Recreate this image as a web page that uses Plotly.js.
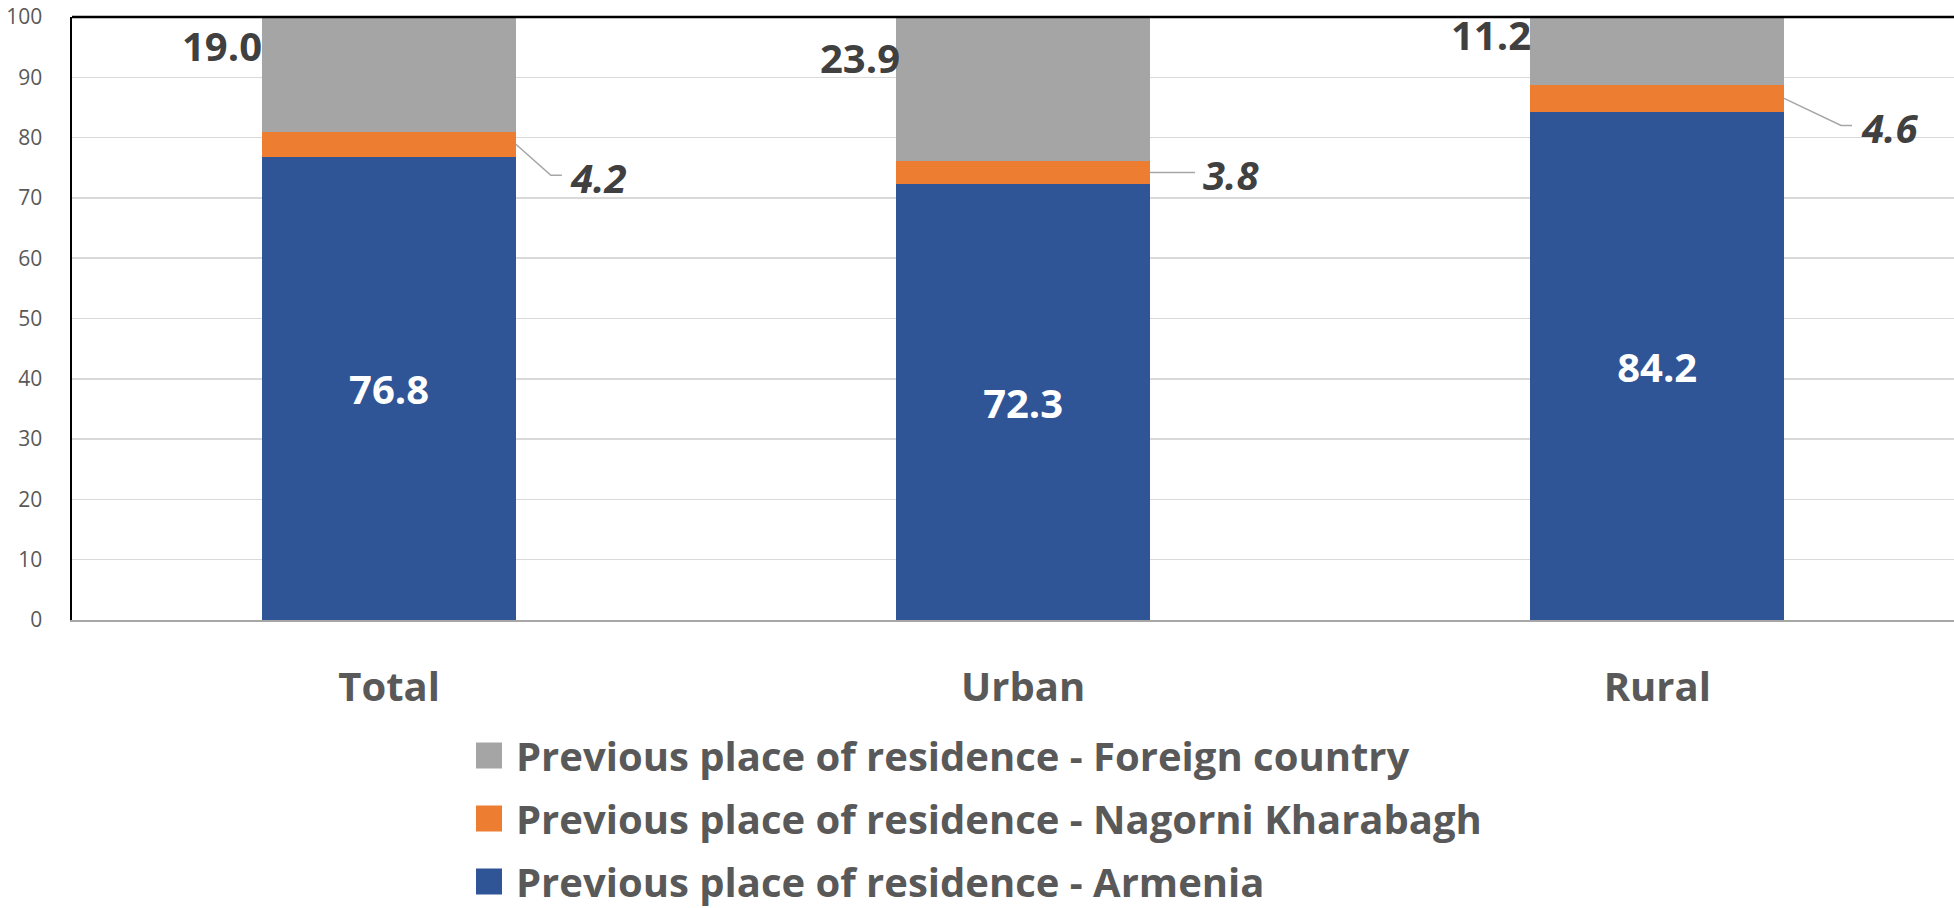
<!DOCTYPE html>
<html>
<head>
<meta charset="utf-8">
<script src="https://cdn.plot.ly/plotly-3.0.1.min.js"></script>
<style>
  html, body { margin: 0; padding: 0; background: #ffffff; }
  #chart { width: 1954px; height: 908px; }
</style>
</head>
<body>
<div id="chart"></div>
<script>
// ---------- data ----------
const categories = ['Total', 'Urban', 'Rural'];
const armenia  = [76.8, 72.3, 84.2];
const karabakh = [4.2, 3.8, 4.6];
const foreign  = [19.0, 23.9, 11.2];
const seriesNames = [
  'Previous place of residence - Armenia',
  'Previous place of residence - Nagorni Kharabagh',
  'Previous place of residence - Foreign country'
];
const yTickValues = [0, 10, 20, 30, 40, 50, 60, 70, 80, 90, 100];

// ---------- styling ----------
const FONT = 'Open Sans, Noto Sans, Liberation Sans, sans-serif';
const BAR_W = 0.4;
const colors = { armenia: '#2F5597', karabakh: '#ED7D31', foreign: '#A5A5A5' };
const labelColor = '#404040';
const axisTextColor = '#595959';
// label offsets in pixels (placement styling, per category)
const foreignShiftY = [29, 32, 16];
const foreignShiftX = [2, 6, 3];
const nkLeader = [ {dx1: 35, dy1: -31, dx2: 46, lx: 52, ly: -33},
                   {dx1: 0,  dy1: 0,   dx2: 45, lx: 51, ly: -2},
                   {dx1: 57, dy1: -27, dx2: 68, lx: 75, ly: -29} ];

const idx = categories.map((_, i) => i);

const traces = [
  {
    type: 'bar', name: seriesNames[0], x: categories, y: armenia, width: BAR_W,
    marker: { color: colors.armenia, line: { width: 0 } },
    texttemplate: '%{y:.1f}', textposition: 'inside', insidetextanchor: 'middle',
    textangle: 0, constraintext: 'none',
    textfont: { family: FONT, size: 40, color: '#ffffff', weight: 'bold' },
    hoverinfo: 'skip', legendgroup: 'a', legendrank: 3
  },
  {
    type: 'bar', name: seriesNames[1], x: categories, y: karabakh, width: BAR_W,
    marker: { color: colors.karabakh, line: { width: 0 } },
    textposition: 'none', hoverinfo: 'skip', legendgroup: 'b', legendrank: 2
  },
  {
    type: 'bar', name: seriesNames[2], x: categories, y: foreign, width: BAR_W,
    marker: { color: colors.foreign, line: { width: 0 } },
    textposition: 'none', hoverinfo: 'skip', legendgroup: 'c', legendrank: 1
  }
];

const annotations = [];
const shapes = [];

idx.forEach(i => {
  annotations.push({
    x: i - BAR_W / 2, y: armenia[i] + karabakh[i] + foreign[i] / 2,
    xref: 'x', yref: 'y', xanchor: 'right', yanchor: 'middle',
    xshift: foreignShiftX[i], yshift: foreignShiftY[i],
    text: foreign[i].toFixed(1), showarrow: false,
    font: { family: FONT, size: 40, color: labelColor, weight: 'bold' }
  });
  const yMid = armenia[i] + karabakh[i] / 2;
  const L = nkLeader[i];
  annotations.push({
    x: i + BAR_W / 2, y: yMid, xref: 'x', yref: 'y',
    xanchor: 'left', yanchor: 'middle', xshift: L.lx, yshift: L.ly,
    text: '<i>' + karabakh[i].toFixed(1) + '</i>', showarrow: false,
    font: { family: FONT, size: 40, color: labelColor, weight: 'bold', style: 'italic' }
  });
  shapes.push({
    type: 'path', xref: 'x', yref: 'y',
    xsizemode: 'pixel', ysizemode: 'pixel',
    xanchor: i + BAR_W / 2, yanchor: yMid,
    path: `M0,0 L${L.dx1},${L.dy1} L${L.dx2},${L.dy1}`,
    line: { color: '#A6A6A6', width: 1.5 }
  });
});

shapes.push({
  type: 'line', xref: 'paper', yref: 'paper', x0: 0, x1: 1, y0: 1, y1: 1,
  line: { color: '#000000', width: 2.5 }
});

const layout = {
  width: 1954, height: 908,
  margin: { l: 72, r: 0, t: 17, b: 288, pad: 0, autoexpand: false },
  paper_bgcolor: '#ffffff', plot_bgcolor: '#ffffff',
  barmode: 'stack',
  showlegend: true,
  font: { family: FONT, color: axisTextColor },
  xaxis: {
    type: 'category', range: [-0.5, 2.468], fixedrange: true,
    showgrid: false, zeroline: false,
    showline: true, linecolor: '#A6A6A6', linewidth: 2,
    ticks: '', ticklabelstandoff: 31,
    tickfont: { family: FONT, size: 40, color: axisTextColor, weight: 'bold' }
  },
  yaxis: {
    range: [0, 100], fixedrange: true,
    tickvals: yTickValues, ticktext: yTickValues.map(String),
    showgrid: true, gridcolor: '#D9D9D9', gridwidth: 1.5,
    zeroline: false,
    showline: true, linecolor: '#000000', linewidth: 2.5,
    ticks: '', ticklabelstandoff: 23,
    tickfont: { family: FONT, size: 21, color: axisTextColor }
  },
  legend: {
    xref: 'container', yref: 'container',
    x: 476 / 1954, xanchor: 'left',
    y: 1 - 723 / 908, yanchor: 'top',
    orientation: 'v', traceorder: 'grouped', tracegroupgap: 8,
    maxheight: 1,
    bgcolor: 'rgba(0,0,0,0)', borderwidth: 0,
    font: { family: FONT, size: 40, color: axisTextColor, weight: 'bold' }
  },
  annotations: annotations,
  shapes: shapes,
  hovermode: false
};

Plotly.newPlot('chart', traces, layout, { displayModeBar: false, staticPlot: true }).then(() => {
  document.querySelectorAll('.legend .legendpoints path').forEach(p => {
    p.setAttribute('d', 'M6,13H-20V-13H6Z');
  });
});
</script>
</body>
</html>
